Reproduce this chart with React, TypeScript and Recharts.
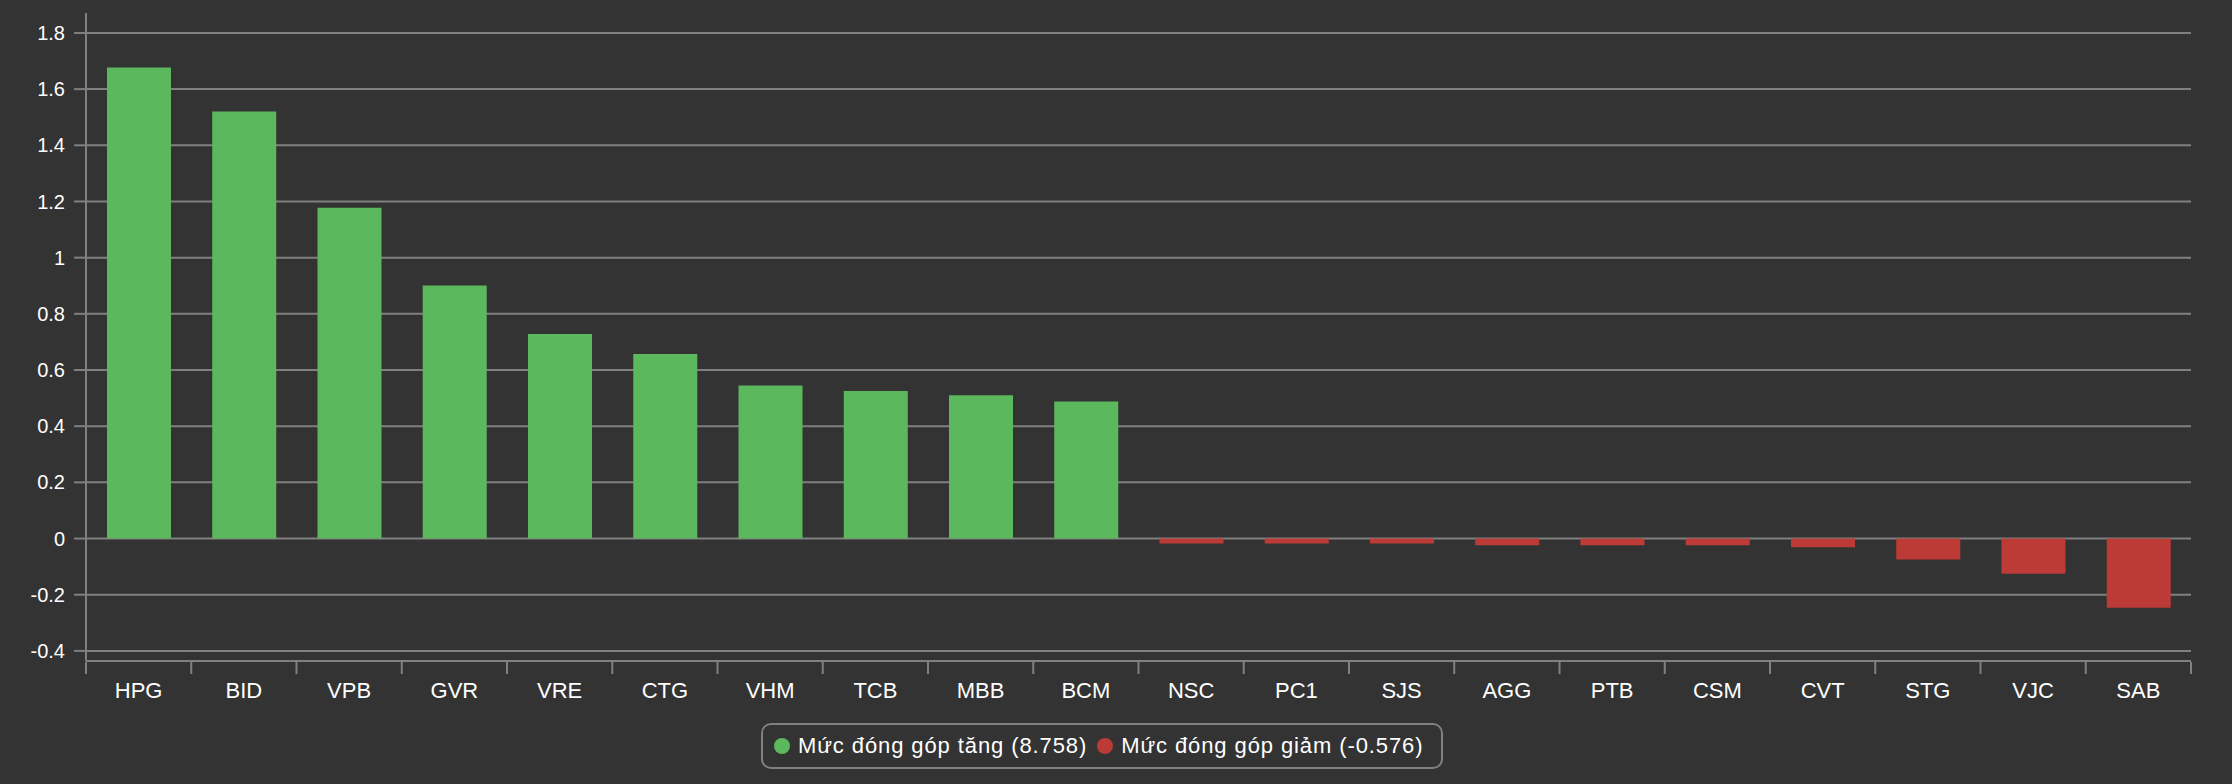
import { BarChart, Bar, XAxis, YAxis, CartesianGrid, Legend } from 'recharts';

const tickers = ['HPG', 'BID', 'VPB', 'GVR', 'VRE', 'CTG', 'VHM', 'TCB', 'MBB', 'BCM', 'NSC', 'PC1', 'SJS', 'AGG', 'PTB', 'CSM', 'CVT', 'STG', 'VJC', 'SAB'];
const gainValues = [1.677, 1.52, 1.178, 0.901, 0.728, 0.657, 0.545, 0.525, 0.51, 0.488];
const lossValues = [-0.018, -0.018, -0.018, -0.024, -0.024, -0.024, -0.031, -0.075, -0.125, -0.246];
const yTicks = [-0.4, -0.2, 0, 0.2, 0.4, 0.6, 0.8, 1, 1.2, 1.4, 1.6, 1.8];
const legendLabels = ['Mức đóng góp tăng (8.758)', 'Mức đóng góp giảm (-0.576)'];

const GREEN = '#5cb85c';
const RED = '#bd3b36';
const GRID = '#808080';
const FONT = '"Liberation Sans", Arial, Helvetica, sans-serif';

const W = 2232;
const H = 784;
const PLOT_LEFT = 86;
const PLOT_RIGHT = 2191;
const BAND = (PLOT_RIGHT - PLOT_LEFT) / tickers.length;

const data = tickers.map((name, i) => ({
    name,
    gain: i < gainValues.length ? gainValues[i] : null,
    loss: i >= gainValues.length ? lossValues[i - gainValues.length] : null,
}));

// category ticks sit on the band edges, labels in the middle
function XTick(props: any) {
    const { x, y, payload, index } = props;
    const left = x - BAND / 2;
    const right = x + BAND / 2;
    return (
        <g>
            <line x1={left} x2={left} y1={y - 20} y2={y - 8} stroke={GRID} strokeWidth={2} />
            {index === tickers.length - 1 && (
                <line x1={right} x2={right} y1={y - 20} y2={y - 8} stroke={GRID} strokeWidth={2} />
            )}
            <text x={x} y={y} dy="0.71em" textAnchor="middle" fill="#fff" fontSize={22} fontFamily={FONT}>
                {payload.value}
            </text>
        </g>
    );
}

function LegendBox() {
    const colors = [GREEN, RED];
    return (
        <div
            style={{
                width: 682,
                height: 46,
                boxSizing: 'border-box',
                border: `2px solid ${GRID}`,
                borderRadius: 10,
                display: 'flex',
                alignItems: 'center',
                paddingLeft: 11,
                fontFamily: FONT,
                fontSize: 22,
                color: '#fff',
                whiteSpace: 'nowrap',
            }}
        >
            {legendLabels.map((label, i) => (
                <span key={label} style={{ display: 'flex', alignItems: 'center', marginRight: i === 0 ? 10 : 0 }}>
                    <span
                        style={{
                            width: 16,
                            height: 16,
                            borderRadius: 8,
                            background: colors[i],
                            display: 'inline-block',
                            marginRight: 8,
                        }}
                    />
                    <span style={{ letterSpacing: 0.9 }}>{label}</span>
                </span>
            ))}
        </div>
    );
}

export default function App() {
    return (
        <div style={{ position: 'absolute', left: 0, top: 0, width: W, height: H, background: '#333333' }}>
            <BarChart
                width={W}
                height={H}
                data={data}
                margin={{ top: 13, right: W - PLOT_RIGHT, left: 0, bottom: 63 }}
            >
                <CartesianGrid vertical={false} horizontalValues={yTicks} stroke={GRID} strokeWidth={2} />
                <XAxis
                    dataKey="name"
                    height={60}
                    axisLine={{ stroke: GRID, strokeWidth: 2 }}
                    tickLine={false}
                    tickSize={12}
                    tickMargin={9}
                    interval={0}
                    tick={<XTick />}
                />
                <YAxis
                    width={PLOT_LEFT}
                    domain={[-0.436, 1.871]}
                    ticks={yTicks}
                    interval={0}
                    axisLine={{ stroke: GRID, strokeWidth: 2 }}
                    tickLine={{ stroke: GRID, strokeWidth: 2 }}
                    tickSize={12}
                    tickMargin={9}
                    tick={{ fill: '#fff', fontSize: 20, fontFamily: FONT }}
                    allowDataOverflow
                />
                <Legend
                    layout="horizontal"
                    verticalAlign="middle"
                    align="center"
                    wrapperStyle={{ position: 'absolute', left: 761, top: 723, width: 682, height: 46 }}
                    content={<LegendBox />}
                />
                <Bar dataKey="gain" stackId="a" fill={GREEN} barSize={64} isAnimationActive={false} />
                <Bar dataKey="loss" stackId="a" fill={RED} barSize={64} isAnimationActive={false} />
            </BarChart>
        </div>
    );
}
